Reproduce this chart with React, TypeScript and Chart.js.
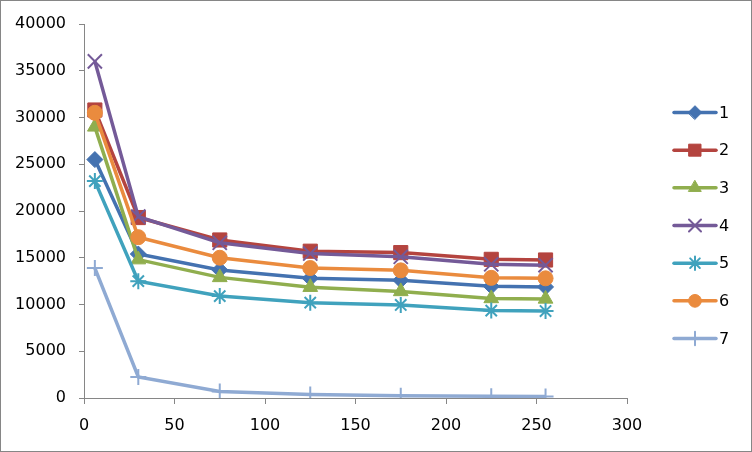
import React, { useEffect, useRef } from "react";
import { Chart, registerables } from "chart.js";
import { drawPoint } from "chart.js/helpers";

Chart.register(...registerables);

const xValues = [6, 30, 75, 125, 175, 225, 255];
const seriesNames = ["1", "2", "3", "4", "5", "6", "7"];
const s1 = [25500, 15400, 13700, 12800, 12600, 11950, 11880];
const s2 = [30800, 19300, 16900, 15700, 15550, 14830, 14760];
const s3 = [29000, 14800, 12900, 11850, 11400, 10650, 10600];
const s4 = [36000, 19400, 16600, 15450, 15100, 14300, 14200];
const s5 = [23200, 12500, 10900, 10200, 9950, 9350, 9300];
const s6 = [30500, 17200, 15000, 13900, 13650, 12850, 12800];
const s7 = [13900, 2250, 700, 380, 250, 200, 150];
const seriesValues = [s1, s2, s3, s4, s5, s6, s7];

const colors = ["#4472B0", "#B4443F", "#90AE4E", "#745A98", "#40A2BD", "#EA8B3E", "#8FAAD3"];
const styles = ["rectRot", "rect", "triangle", "crossRot", "star", "circle", "cross"];
const radii = [8, 10, 8.5, 10, 8, 7.5, 8];
const pBorder = [1, 1, 1, 2, 2, 1, 2];

const FONT = "DejaVu Sans";
const AXIS = "#868686";

const frame = {
  id: "frame",
  beforeDraw(chart: any) {
    const c = chart.ctx;
    c.save();
    c.fillStyle = "#ffffff";
    c.fillRect(0, 0, chart.width, chart.height);
    c.restore();
  },
  afterDraw(chart: any) {
    const c = chart.ctx;
    c.save();
    c.strokeStyle = AXIS;
    c.lineWidth = 1;
    c.strokeRect(0.5, 0.5, chart.width - 1, chart.height - 1);
    // legend
    const ds = chart.data.datasets;
    for (let i = 0; i < ds.length; i++) {
      const y = 112.5 + i * 37.67;
      c.strokeStyle = ds[i].borderColor;
      c.lineWidth = 3.5;
      c.lineCap = "round";
      c.beginPath();
      c.moveTo(674, y);
      c.lineTo(716, y);
      c.stroke();
      c.fillStyle = ds[i].pointBackgroundColor;
      c.strokeStyle = ds[i].pointBorderColor;
      c.lineWidth = ds[i].pointBorderWidth;
      drawPoint(c, { pointStyle: ds[i].pointStyle, radius: ds[i].pointRadius * 0.85, rotation: 0, borderWidth: ds[i].pointBorderWidth }, 695, y);
      c.fillStyle = "#000000";
      c.font = `16px "${FONT}"`;
      c.textBaseline = "middle";
      c.textAlign = "left";
      c.fillText(ds[i].label, 719, y + 1);
    }
    c.restore();
  },
};

export default function App() {
  const ref = useRef<HTMLCanvasElement | null>(null);
  useEffect(() => {
    if (!ref.current) return;
    const datasets = seriesValues.map((vals, i) => ({
      label: seriesNames[i],
      data: vals.map((v, j) => ({ x: xValues[j], y: v })),
      borderColor: colors[i],
      backgroundColor: colors[i],
      pointBackgroundColor: colors[i],
      pointBorderColor: colors[i],
      pointStyle: styles[i],
      pointRadius: radii[i],
      pointBorderWidth: pBorder[i],
      borderWidth: 3.5,
      tension: 0,
      fill: false,
      order: 7 - i,
    }));
    const chart = new Chart(ref.current, {
      type: "line",
      data: { datasets },
      plugins: [frame],
      options: {
        animation: false,
        responsive: false,
        devicePixelRatio: 1,
        layout: { padding: { left: 0, top: 24, right: 125, bottom: 0 } },
        plugins: { legend: { display: false }, tooltip: { enabled: false } },
        scales: {
          x: {
            type: "linear",
            min: 0,
            max: 300,
            ticks: { stepSize: 50, color: "#000", font: { family: FONT, size: 16 }, padding: 12, maxRotation: 0, callback: (v: any) => String(v) },
            grid: { drawOnChartArea: false, drawTicks: true, tickLength: 6, color: AXIS },
            border: { color: AXIS, width: 1 },
            afterFit: (s: any) => { s.height = 54; },
          },
          y: {
            min: 0,
            max: 40000,
            ticks: { stepSize: 5000, color: "#000", font: { family: FONT, size: 16 }, padding: 13, callback: (v: any) => String(v) },
            grid: { drawOnChartArea: false, drawTicks: true, tickLength: 5, color: AXIS },
            border: { color: AXIS, width: 1 },
            afterFit: (s: any) => { s.width = 84; },
          },
        },
      },
    });
    return () => chart.destroy();
  }, []);
  return (
    <div style={{ position: "fixed", left: 0, top: 0, width: 752, height: 452, background: "#fff" }}>
      <canvas ref={ref} width={752} height={452} />
    </div>
  );
}
